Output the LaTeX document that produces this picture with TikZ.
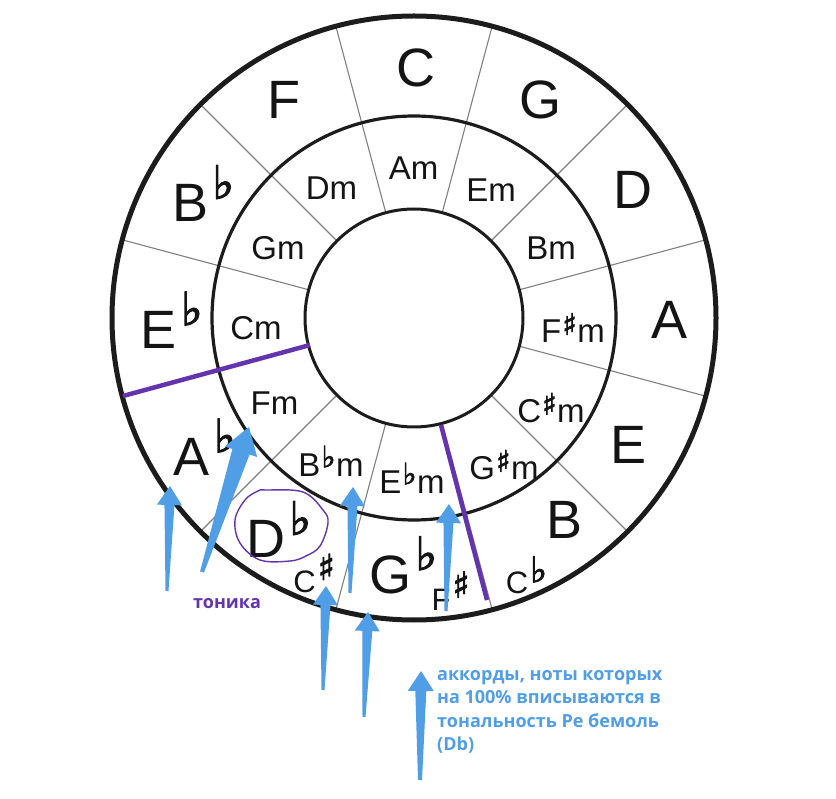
\documentclass[tikz,border=0pt]{standalone}
\usepackage{fontspec}
\setmainfont{Liberation Sans}
\newfontfamily\symf[FakeBold=2.5]{DejaVu Sans}
\newfontfamily\annot{Open Sans}
\usetikzlibrary{calc,backgrounds}

\definecolor{ringblack}{HTML}{1C1C1C}
\definecolor{spokegray}{HTML}{808080}
\definecolor{annpurple}{HTML}{6434AE}
\definecolor{arrowblue}{HTML}{4F9EE6}

% accidental: glyph, scale, raise
\newcommand\acc[3]{\raisebox{#3}{\scalebox{#2}{\symf #1}}}
\newcommand\bigfl{\rlap{\hspace{4pt}\acc{♭}{0.85}{23pt}}}
\newcommand\midfl{\hspace{1pt}\acc{♭}{0.9}{9pt}\hspace{0.5pt}}
\newcommand\midsh{\hspace{1pt}\acc{♯}{0.9}{8pt}\hspace{0.5pt}}
\newcommand\smsh{\rlap{\hspace{2pt}\acc{♯}{1.15}{13pt}}}
\newcommand\smfl{\rlap{\hspace{2pt}\acc{♭}{1.15}{11pt}}}

% tail, tip, tail half width, shaft half width, head half width, head length
\newcommand\blarrow[6]{%
  \coordinate (hb) at ($(#2)!#6!(#1)$);
  \fill[arrowblue]
    ($(#1)!#3!90:(#2)$) -- ($(hb)!#4!90:(#2)$) -- ($(hb)!#5!90:(#2)$) -- (#2)
    -- ($(hb)!#5!-90:(#2)$) -- ($(hb)!#4!-90:(#2)$) -- ($(#1)!#3!-90:(#2)$) -- cycle;
}

\tikzset{
  ring/.style={circle, draw=ringblack, inner sep=0pt, outer sep=0pt},
  spoke/.style={draw=spokegray, line width=1.1pt},
  biglab/.style={font=\fontsize{54}{60}\selectfont, inner sep=0pt, text=black!92},
  midlab/.style={font=\fontsize{33}{36}\selectfont, inner sep=0pt, text=black!92},
  smlab/.style={font=\fontsize{31}{34}\selectfont, inner sep=0pt, text=black!92},
  purpleline/.style={draw=annpurple, line width=4.5pt},
  annfont/.style={font=\annot\bfseries\fontsize{18}{23.5}\selectfont, inner sep=0pt},
}

\begin{document}
\begin{tikzpicture}[x=1pt, y=-1pt]
\useasboundingbox (0,0) rectangle (836,799);
\coordinate (c) at (414,318);

\node[ring, line width=5pt, minimum size=604pt] (outer) at (c) {};
\node[ring, line width=3.2pt, minimum size=404pt] (middle) at (c) {};
\node[ring, line width=3pt, minimum size=218pt] (inner) at (c) {};

\begin{pgfonlayer}{background}
  \fill[white] (0,0) rectangle (836,799);
  \foreach \a in {15,45,...,345} {
    \draw[spoke] (inner.\a) -- (middle.\a);
    \draw[spoke] (middle.\a) -- (outer.\a);
  }
\end{pgfonlayer}

% outer ring: major keys
\node[biglab] (kC)  at (415.6,67.6) {C};
\node[biglab] (kG)  at (540,100) {G};
\node[biglab] (kD)  at (633,190) {D};
\node[biglab] (kA)  at (670,320) {A};
\node[biglab] (kE)  at (629,445) {E};
\node[biglab] (kB)  at (565,520) {B};
\node[smlab]  (kCb) at (517,575) {C\smfl};
\node[biglab] (kGb) at (390.5,565) {G\bigfl};
\node[smlab]  (kFs) at (441,591) {F\smsh};
\node[biglab] (kDb) at (266,529.5) {D\bigfl};
\node[smlab]  (kCs) at (304.5,573.5) {C\smsh};
\node[biglab] (kAb) at (192,447) {A\bigfl};
\node[biglab] (kEb) at (159,320) {E\bigfl};
\node[biglab] (kBb) at (190.5,193.5) {B\bigfl};
\node[biglab] (kF)  at (284,100) {F};

% middle ring: minor keys
\node[midlab] (mAm)  at (413.5,168) {Am};
\node[midlab] (mDm)  at (331.5,188.5) {Dm};
\node[midlab] (mEm)  at (491,190.6) {Em};
\node[midlab] (mGm)  at (278,248) {Gm};
\node[midlab] (mBm)  at (551,248) {Bm};
\node[midlab] (mCm)  at (256,328) {Cm};
\node[midlab] (mFsm) at (573,328) {F\midsh m};
\node[midlab] (mFm)  at (274.5,403) {Fm};
\node[midlab] (mCsm) at (551,408) {C\midsh m};
\node[midlab] (mBbm) at (331,461) {B\midfl m};
\node[midlab] (mGsm) at (504,465) {G\midsh m};
\node[midlab] (mEbm) at (412,478) {E\midfl m};

% purple marks
\coordinate (pa1) at (310,345);
\coordinate (pa2) at (123,396);
\coordinate (pb1) at (441,425);
\coordinate (pb2) at (487,600);
\draw[purpleline] (pa1) -- (pa2);
\draw[purpleline] (pb1) -- (pb2);

\draw[annpurple, line width=1.4pt] plot[smooth cycle, tension=0.6] coordinates {
  (266,490) (303,492) (323,510) (328,523) (320,546) (306,556) (290,561)
  (260,560) (240,543) (235,520) (245,500) (258,491)};

% blue arrows
\coordinate (a1t) at (167,591); \coordinate (a1h) at (170,486);
\coordinate (a2t) at (202,572); \coordinate (a2h) at (249,427);
\coordinate (a3t) at (350,593); \coordinate (a3h) at (353,487);
\coordinate (a4t) at (323,690); \coordinate (a4h) at (326,586);
\coordinate (a5t) at (364,717); \coordinate (a5h) at (368,612);
\coordinate (a6t) at (446,611); \coordinate (a6h) at (449,504);
\coordinate (a7t) at (420,780); \coordinate (a7h) at (421,671);
\blarrow{a1t}{a1h}{1.5pt}{5pt}{12.5pt}{19pt}
\blarrow{a2t}{a2h}{2pt}{9pt}{17pt}{26pt}
\blarrow{a3t}{a3h}{1.5pt}{5pt}{12.5pt}{19pt}
\blarrow{a4t}{a4h}{1.5pt}{5pt}{12.5pt}{19pt}
\blarrow{a5t}{a5h}{1.5pt}{5pt}{12.5pt}{19pt}
\blarrow{a6t}{a6h}{1.5pt}{5pt}{12.5pt}{19pt}
\blarrow{a7t}{a7h}{2pt}{5.5pt}{13pt}{20pt}

% annotations
\node[annfont, text=annpurple] (tonika) at (227,603.5) {тоника};
\node[annfont, text=arrowblue, align=left, anchor=north west] (legend) at (437,670)
  {аккорды, ноты которых\\на 100\% вписываются в\\тональность Ре бемоль\\(Db)};
\end{tikzpicture}
\end{document}
